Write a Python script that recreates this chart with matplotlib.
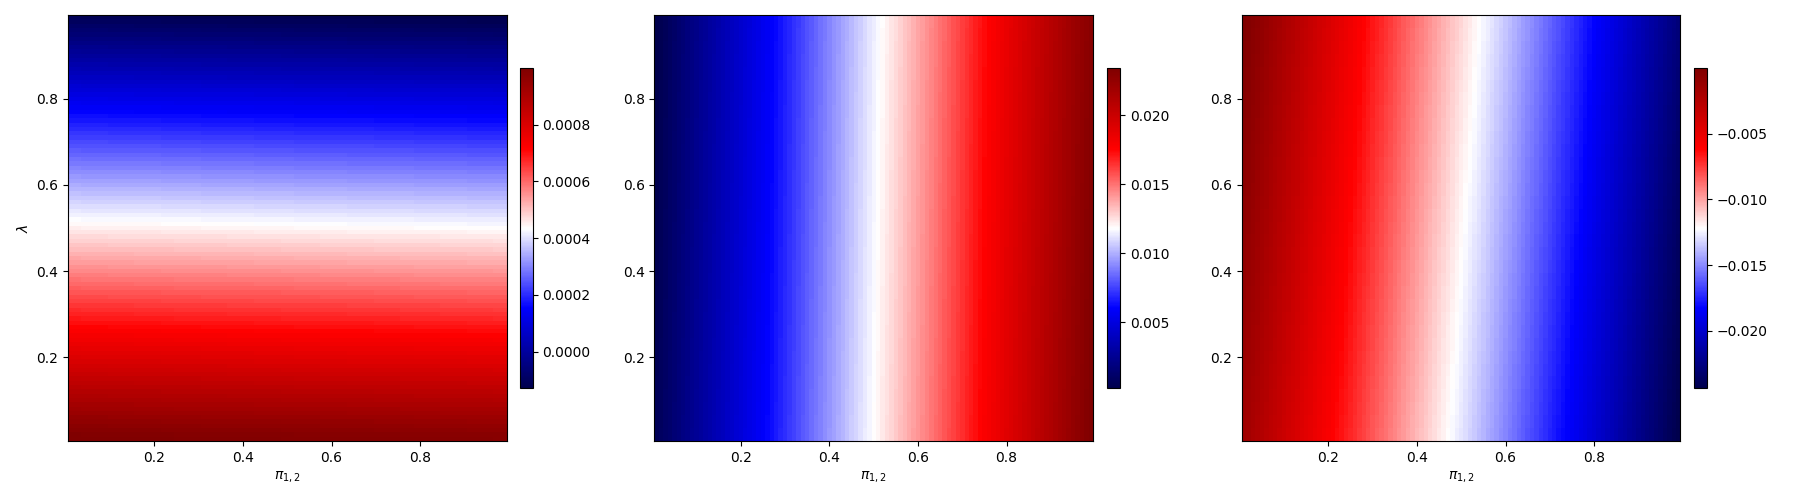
import numpy as np
import matplotlib
matplotlib.use('Agg')
import matplotlib.pyplot as plt

# Grilles (pi_{1,2} en x, lambda en y), pas de 0.01
pi_vals = np.arange(1, 100) / 100
lam_vals = np.arange(1, 100) / 100

# Panneau 1 : profil selon lambda (unites 1e-6) + petit decalage selon pi
lam_profile_1 = [989, 985, 975, 964, 953, 942, 930, 919, 908, 896,
                 885, 874, 862, 851, 840, 828, 817, 806, 794, 783,
                 772, 761, 749, 738, 727, 715, 704, 693, 681, 670,
                 659, 648, 636, 625, 614, 602, 591, 580, 568, 557,
                 546, 534, 523, 512, 500, 489, 478, 467, 455, 444,
                 433, 422, 411, 400, 389, 378, 367, 356, 345, 334,
                 323, 312, 301, 290, 279, 268, 257, 246, 235, 224,
                 213, 202, 191, 180, 169, 158, 146, 134, 122, 110,
                 98, 86, 74, 61, 49, 37, 25, 13, 1, -11,
                 -23, -35, -47, -60, -72, -84, -96, -108, -120]
pi_offset_1 = [9, 8, 8, 7, 7, 6, 6, 5, 4, 4, 3, 3, 2, 2, 1, 1, 0,
               -1, -1, -2, -2, -3, -3, -4, -4, -5, -6, -6, -7, -7, -8, -8, -9]

# Panneau 2 : profil selon pi (unites 1e-5) + decalage selon lambda
pi_profile_2 = [43, 65, 87, 109, 131, 153, 175, 197, 219, 241,
                263, 285, 307, 329, 350, 372, 394, 416, 438, 460,
                482, 504, 526, 548, 570, 592, 615, 639, 663, 687,
                710, 734, 758, 782, 806, 830, 854, 877, 901, 925,
                949, 973, 997, 1020, 1044, 1068, 1092, 1116, 1140, 1164,
                1187, 1211, 1235, 1259, 1283, 1307, 1330, 1354, 1378, 1402,
                1426, 1450, 1474, 1497, 1521, 1545, 1569, 1593, 1617, 1640,
                1664, 1688, 1712, 1736, 1760, 1783, 1807, 1830, 1853, 1877,
                1900, 1923, 1947, 1970, 1993, 2017, 2040, 2063, 2087, 2110,
                2133, 2157, 2180, 2203, 2227, 2250, 2273, 2297, 2320]
lam_offset_2 = [21, 20, 18, 17, 16, 14, 13, 12, 10, 9, 8, 7, 5, 4, 3, 1, 0,
                -1, -3, -4, -5, -7, -8, -9, -10, -12, -13, -14, -16, -17, -18, -20, -21]

# Panneau 3 : profil selon pi (unites 1e-5) + decalage selon lambda
pi_profile_3 = [-81, -102, -124, -147, -169, -192, -215, -237, -260, -282,
                -305, -328, -350, -373, -395, -418, -441, -463, -486, -508,
                -531, -554, -576, -599, -622, -645, -668, -691, -715, -738,
                -761, -784, -808, -831, -854, -877, -901, -924, -947, -971,
                -994, -1017, -1040, -1064, -1087, -1110, -1133, -1157, -1180, -1203,
                -1226, -1250, -1273, -1296, -1319, -1342, -1365, -1389, -1412, -1435,
                -1458, -1481, -1504, -1528, -1551, -1574, -1597, -1620, -1643, -1667,
                -1690, -1713, -1736, -1759, -1782, -1806, -1829, -1853, -1877, -1901,
                -1926, -1950, -1974, -1998, -2022, -2046, -2070, -2095, -2119, -2143,
                -2167, -2191, -2215, -2239, -2264, -2288, -2312, -2336, -2360]
lam_offset_3 = [-79, -74, -69, -64, -59, -54, -49, -44, -40, -35, -30, -25, -20, -15, -10, -5, 0,
                5, 10, 15, 20, 25, 30, 35, 40, 44, 49, 54, 59, 64, 69, 74, 79]

# Construction des grilles 2D (lignes = lambda, colonnes = pi)
Z1 = np.add.outer(np.array(lam_profile_1), np.repeat(pi_offset_1, 3)) * 1e-6
Z2 = np.add.outer(np.repeat(lam_offset_2, 3), np.array(pi_profile_2)) * 1e-5
Z3 = np.add.outer(np.repeat(lam_offset_3, 3), np.array(pi_profile_3)) * 1e-5

fig = plt.figure(figsize=(18, 5), dpi=100)

ax_lefts = [0.0378, 0.3636, 0.69]
cb_lefts = [0.2889, 0.6152, 0.9413]
grids = [Z1, Z2, Z3]

for k in range(3):
    ax = fig.add_axes([ax_lefts[k], 0.118, 0.2436, 0.852])
    im = ax.pcolormesh(pi_vals, lam_vals, grids[k], cmap='seismic', shading='nearest')
    ax.set_xticks([0.2, 0.4, 0.6, 0.8])
    ax.set_yticks([0.2, 0.4, 0.6, 0.8])
    ax.set_xlabel(r'$\pi_{1,2}$')
    if k == 0:
        ax.set_ylabel(r'$\lambda$')
    cax = fig.add_axes([cb_lefts[k], 0.2234, 0.0071, 0.64])
    fig.colorbar(im, cax=cax)

fig.savefig('out.png', dpi=100)
